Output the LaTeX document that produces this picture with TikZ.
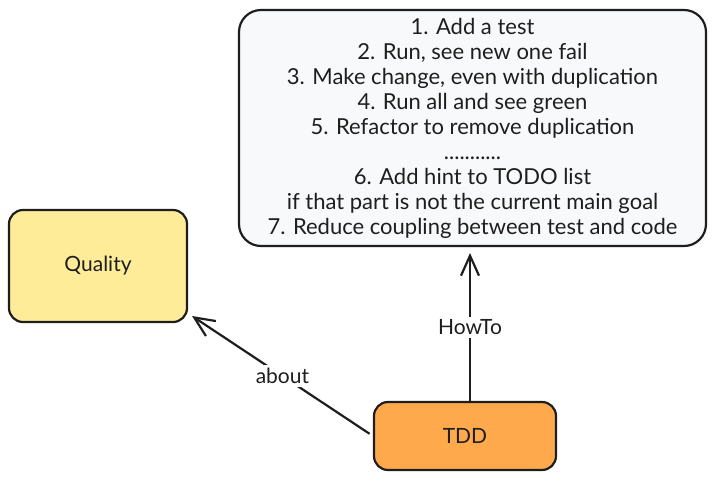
\documentclass[tikz,border=0pt]{standalone}
\usepackage{fontspec}
\setmainfont{Lato}
\usetikzlibrary{arrows.meta}
\definecolor{ink}{HTML}{1E1E1E}
\definecolor{notefill}{HTML}{F8F9FA}
\definecolor{qfill}{HTML}{FFEC99}
\definecolor{tfill}{HTML}{FFA94D}
\begin{document}
\begin{tikzpicture}[x=1pt,y=-1pt,
  box/.style={draw=ink, line width=2.2pt, rounded corners=14pt, inner sep=0pt},
  lbl/.style={fill=white, text=ink, font=\fontsize{21}{24}\selectfont, inner sep=3pt},
  conn/.style={draw=ink, line width=2.2pt, -{Straight Barb[length=20pt,width=18pt,line width=2.2pt]}}]
\useasboundingbox (0,0) rectangle (715,480);
\node[box, fill=notefill, minimum width=467pt, minimum height=236pt,
      rounded corners=22pt, text=ink, align=center,
      font=\fontsize{22}{25}\selectfont] (notes) at (472.5,128)
  {1. Add a test\\
   2. Run, see new one fail\\
   3. Make change, even with duplication\\
   4. Run all and see green\\
   5. Refactor to remove duplication\\
   ...........\\
   6. Add hint to TODO list\\
   if that part is not the current main goal\\
   7. Reduce coupling between test and code};
\node[box, fill=qfill, minimum width=178pt, minimum height=112pt, text=ink,
      font=\fontsize{21}{24}\selectfont] (quality) at (98,266) {Quality};
\node[box, fill=tfill, minimum width=182pt, minimum height=68pt, text=ink,
      font=\fontsize{21}{24}\selectfont] (tdd) at (465,436) {TDD};
\coordinate (qend) at (192,316);
\coordinate (hstart) at (470,402);
\coordinate (hend) at (470,253);
\draw[conn, shorten <=4pt] (tdd.west) -- node[lbl] (about) {about} (qend);
\draw[conn] (hstart) -- node[lbl] (howto) {HowTo} (hend);
\end{tikzpicture}
\end{document}
